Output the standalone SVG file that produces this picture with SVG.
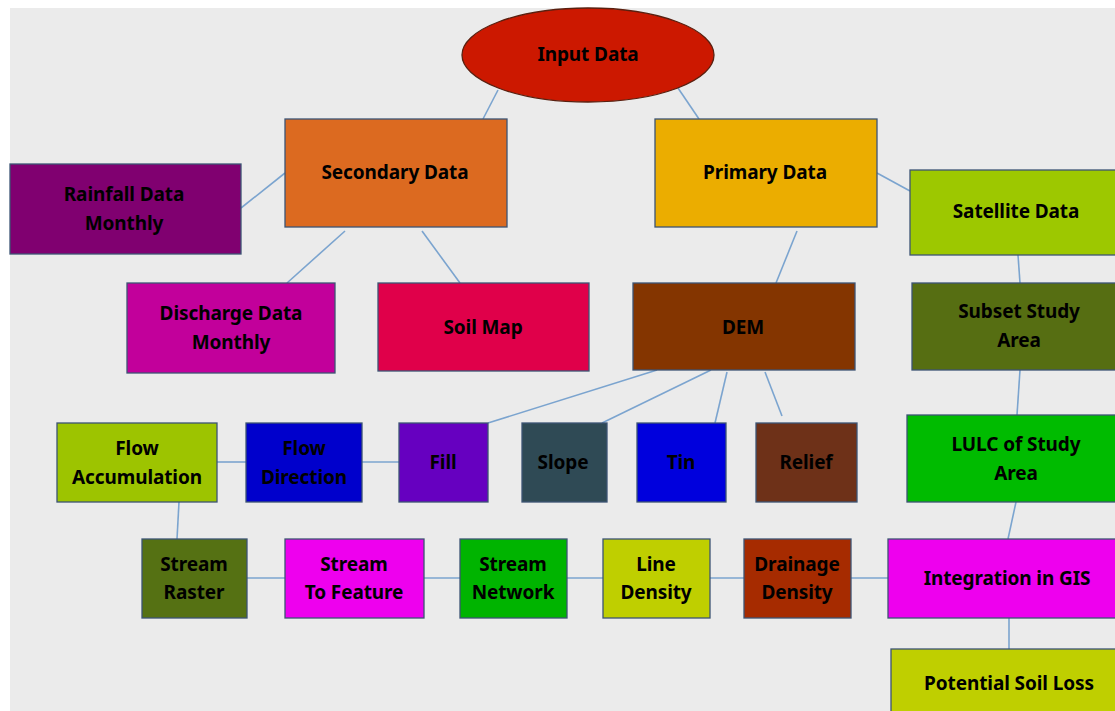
<svg xmlns="http://www.w3.org/2000/svg" width="1115" height="711" viewBox="0 0 1115 711">
<style>
.b{stroke:#3c5474;stroke-width:1.3}
.t{font-family:"Noto Sans","Open Sans",sans-serif;font-weight:bold;font-size:19px;fill:#000;text-anchor:middle;letter-spacing:-0.1px}
.c{stroke:#7ba4cf;stroke-width:1.6;fill:none}
</style>
<rect x="0" y="0" width="1115" height="711" fill="#ffffff"/>
<rect x="10" y="8" width="1105" height="703" fill="#ebebeb"/>
<g id="connectors">
<line class="c" x1="498" y1="90" x2="483" y2="119"/>
<line class="c" x1="678" y1="88" x2="699" y2="119"/>
<line class="c" x1="285" y1="173" x2="241" y2="208"/>
<line class="c" x1="345" y1="231" x2="287" y2="283"/>
<line class="c" x1="422" y1="231" x2="460" y2="283"/>
<line class="c" x1="877" y1="173" x2="910" y2="191"/>
<line class="c" x1="797" y1="231" x2="776" y2="283"/>
<line class="c" x1="1018" y1="255" x2="1020" y2="283"/>
<line class="c" x1="1020" y1="370" x2="1017" y2="415"/>
<line class="c" x1="1016" y1="502" x2="1008" y2="539"/>
<line class="c" x1="1009" y1="618" x2="1009" y2="649"/>
<line class="c" x1="657" y1="370" x2="488" y2="423"/>
<line class="c" x1="711" y1="370" x2="602" y2="423"/>
<line class="c" x1="727" y1="372" x2="715" y2="423"/>
<line class="c" x1="765" y1="372" x2="782" y2="416"/>
<line class="c" x1="362" y1="462" x2="399" y2="462"/>
<line class="c" x1="217" y1="462" x2="246" y2="462"/>
<line class="c" x1="179" y1="502" x2="177" y2="539"/>
<line class="c" x1="247" y1="578" x2="285" y2="578"/>
<line class="c" x1="424" y1="578" x2="460" y2="578"/>
<line class="c" x1="567" y1="578" x2="603" y2="578"/>
<line class="c" x1="710" y1="578" x2="744" y2="578"/>
<line class="c" x1="851" y1="578" x2="888" y2="578"/>
</g>
<g id="input-data"><ellipse cx="588" cy="55" rx="126" ry="47" fill="#cc1800" stroke="#5a2010" stroke-width="1.3"/><text class="t" x="588" y="61">Input Data</text></g>
<g id="secondary-data"><rect class="b" x="285" y="119" width="222" height="108" fill="#dc6a20"/><text class="t" x="395" y="179">Secondary Data</text></g>
<g id="primary-data"><rect class="b" x="655" y="119" width="222" height="108" fill="#ebad00"/><text class="t" x="765" y="179">Primary Data</text></g>
<g id="rainfall"><rect class="b" x="10" y="164" width="231" height="90" fill="#800070"/><text class="t" x="124" y="201">Rainfall Data</text><text class="t" x="124" y="230">Monthly</text></g>
<g id="satellite"><rect class="b" x="910" y="170" width="210" height="85" fill="#9dc800"/><text class="t" x="1016" y="218">Satellite Data</text></g>
<g id="discharge"><rect class="b" x="127" y="283" width="208" height="90" fill="#c2009b"/><text class="t" x="231" y="320">Discharge Data</text><text class="t" x="231" y="349">Monthly</text></g>
<g id="soil-map"><rect class="b" x="378" y="283" width="211" height="88" fill="#e0004a"/><text class="t" x="483" y="334">Soil Map</text></g>
<g id="dem"><rect class="b" x="633" y="283" width="222" height="87" fill="#843500"/><text class="t" x="743" y="334">DEM</text></g>
<g id="subset"><rect class="b" x="912" y="283" width="210" height="87" fill="#566e12"/><text class="t" x="1019" y="318">Subset Study</text><text class="t" x="1019" y="347">Area</text></g>
<g id="lulc"><rect class="b" x="907" y="415" width="215" height="87" fill="#00bb00"/><text class="t" x="1016" y="451">LULC of Study</text><text class="t" x="1016" y="480">Area</text></g>
<g id="flow-acc"><rect class="b" x="57" y="423" width="160" height="79" fill="#9dc400"/><text class="t" x="137" y="455">Flow</text><text class="t" x="137" y="484">Accumulation</text></g>
<g id="flow-dir"><rect class="b" x="246" y="423" width="116" height="79" fill="#0000cc"/><text class="t" x="304" y="455">Flow</text><text class="t" x="304" y="484">Direction</text></g>
<g id="fill"><rect class="b" x="399" y="423" width="89" height="79" fill="#6600c0"/><text class="t" x="443" y="469">Fill</text></g>
<g id="slope"><rect class="b" x="522" y="423" width="85" height="79" fill="#2f4a55"/><text class="t" x="563" y="469">Slope</text></g>
<g id="tin"><rect class="b" x="637" y="423" width="89" height="79" fill="#0000dd"/><text class="t" x="681" y="469">Tin</text></g>
<g id="relief"><rect class="b" x="756" y="423" width="101" height="79" fill="#6e3118"/><text class="t" x="806" y="469">Relief</text></g>
<g id="stream-raster"><rect class="b" x="142" y="539" width="105" height="79" fill="#557113"/><text class="t" x="194" y="571">Stream</text><text class="t" x="194" y="599">Raster</text></g>
<g id="stream-to-feature"><rect class="b" x="285" y="539" width="139" height="79" fill="#ee00ee"/><text class="t" x="354" y="571">Stream</text><text class="t" x="354" y="599">To Feature</text></g>
<g id="stream-network"><rect class="b" x="460" y="539" width="107" height="79" fill="#00b400"/><text class="t" x="513" y="571">Stream</text><text class="t" x="513" y="599">Network</text></g>
<g id="line-density"><rect class="b" x="603" y="539" width="107" height="79" fill="#bfcf00"/><text class="t" x="656" y="571">Line</text><text class="t" x="656" y="599">Density</text></g>
<g id="drainage-density"><rect class="b" x="744" y="539" width="107" height="79" fill="#a62b00"/><text class="t" x="797" y="571">Drainage</text><text class="t" x="797" y="599">Density</text></g>
<g id="integration"><rect class="b" x="888" y="539" width="232" height="79" fill="#ee00ee"/><text class="t" x="1007" y="585">Integration in GIS</text></g>
<g id="potential"><rect class="b" x="891" y="649" width="230" height="70" fill="#bfcf00"/><text class="t" x="1009" y="690">Potential Soil Loss</text></g>
</svg>
